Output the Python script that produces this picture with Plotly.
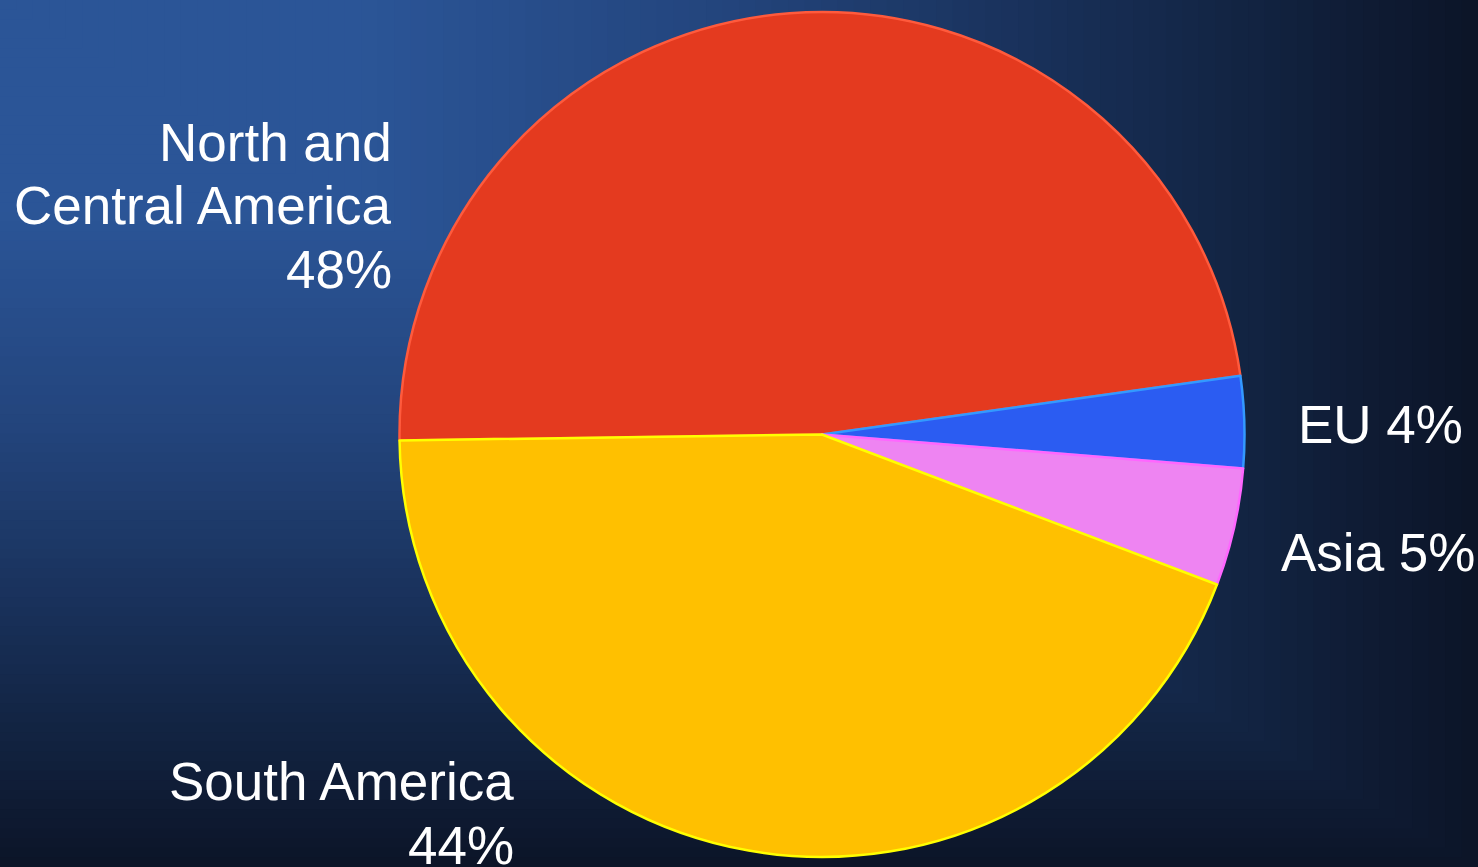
import plotly.graph_objects as go

# ---- data ----
regions = ["North and Central America", "EU", "Asia", "South America"]
shares = [48.0, 3.5, 4.5, 44.0]
label_lines = [["North and", "Central America"], ["EU"], ["Asia"], ["South America"]]

# ---- styles ----
slice_colors = ["#E43A1F", "#2B5CF2", "#EE84F2", "#FFC000"]
edge_colors = ["#FF5A3C", "#3399FF", "#FF66FF", "#FFFF00"]

W, H = 1478, 867
FONT = "Liberation Sans, Arial, sans-serif"


def px_x(x):
    return x / W


def px_y(y):
    return 1 - y / H


# background: rectangular path gradient from the top-left corner
stops = [(0.0, (43, 85, 151)), (0.25, (43, 85, 151)), (0.5, (35, 68, 124)),
         (0.8, (20, 40, 74)), (1.0, (12, 21, 40))]


def grad(t):
    for (t0, c0), (t1, c1) in zip(stops[:-1], stops[1:]):
        if t0 <= t <= t1:
            f = (t - t0) / (t1 - t0) if t1 > t0 else 0
            return "rgb(%d,%d,%d)" % tuple(round(a + (b - a) * f) for a, b in zip(c0, c1))
    return "rgb(%d,%d,%d)" % stops[-1][1]


N = 90
shapes = []
for i in range(N, 0, -1):
    t = i / N
    shapes.append(dict(type="rect", xref="paper", yref="paper", x0=0, x1=t,
                       y0=1, y1=1 - t, fillcolor=grad(t), line=dict(width=0),
                       layer="below"))

# pie geometry (pixels)
cx, cy, r = 822, 434.5, 422.5

fig = go.Figure(go.Pie(
    labels=regions,
    values=shares,
    sort=False,
    direction="clockwise",
    rotation=-90.8,
    marker=dict(colors=slice_colors, line=dict(color=edge_colors, width=2.5)),
    textinfo="none",
    hoverinfo="label+percent",
    showlegend=False,
    domain=dict(x=[px_x(cx - r), px_x(cx + r)], y=[px_y(cy + r), px_y(cy - r)]),
))

total = sum(shares)
pcts = [int(v / total * 100 + 0.5) for v in shares]

# label placement: (text, x_px, center_y_px, xanchor)
lab = []
nca = label_lines[0] + ["%d%%" % pcts[0]]
for txt, yc in zip(nca, [142.6, 205.6, 269.9]):
    lab.append((txt, 394, yc, "right"))
lab.append(("%s %d%%" % (label_lines[1][0], pcts[1]), 1296, 424.9, "left"))
lab.append(("%s %d%%" % (label_lines[2][0], pcts[2]), 1279, 552.3, "left"))
sa = label_lines[3] + ["%d%%" % pcts[3]]
for txt, yc in zip(sa, [781.6, 845.1]):
    lab.append((txt, 516, yc, "right"))

annotations = [dict(text=t, x=px_x(x), y=px_y(y), xref="paper", yref="paper",
                    xanchor=a, yanchor="middle", showarrow=False,
                    font=dict(family=FONT, size=53, color="white"))
               for t, x, y, a in lab]

fig.update_layout(
    width=W, height=H,
    margin=dict(l=0, r=0, t=0, b=0),
    paper_bgcolor="rgb(12,21,40)",
    plot_bgcolor="rgba(0,0,0,0)",
    shapes=shapes,
    annotations=annotations,
)

fig.write_html("out.html", config={"displayModeBar": False})
